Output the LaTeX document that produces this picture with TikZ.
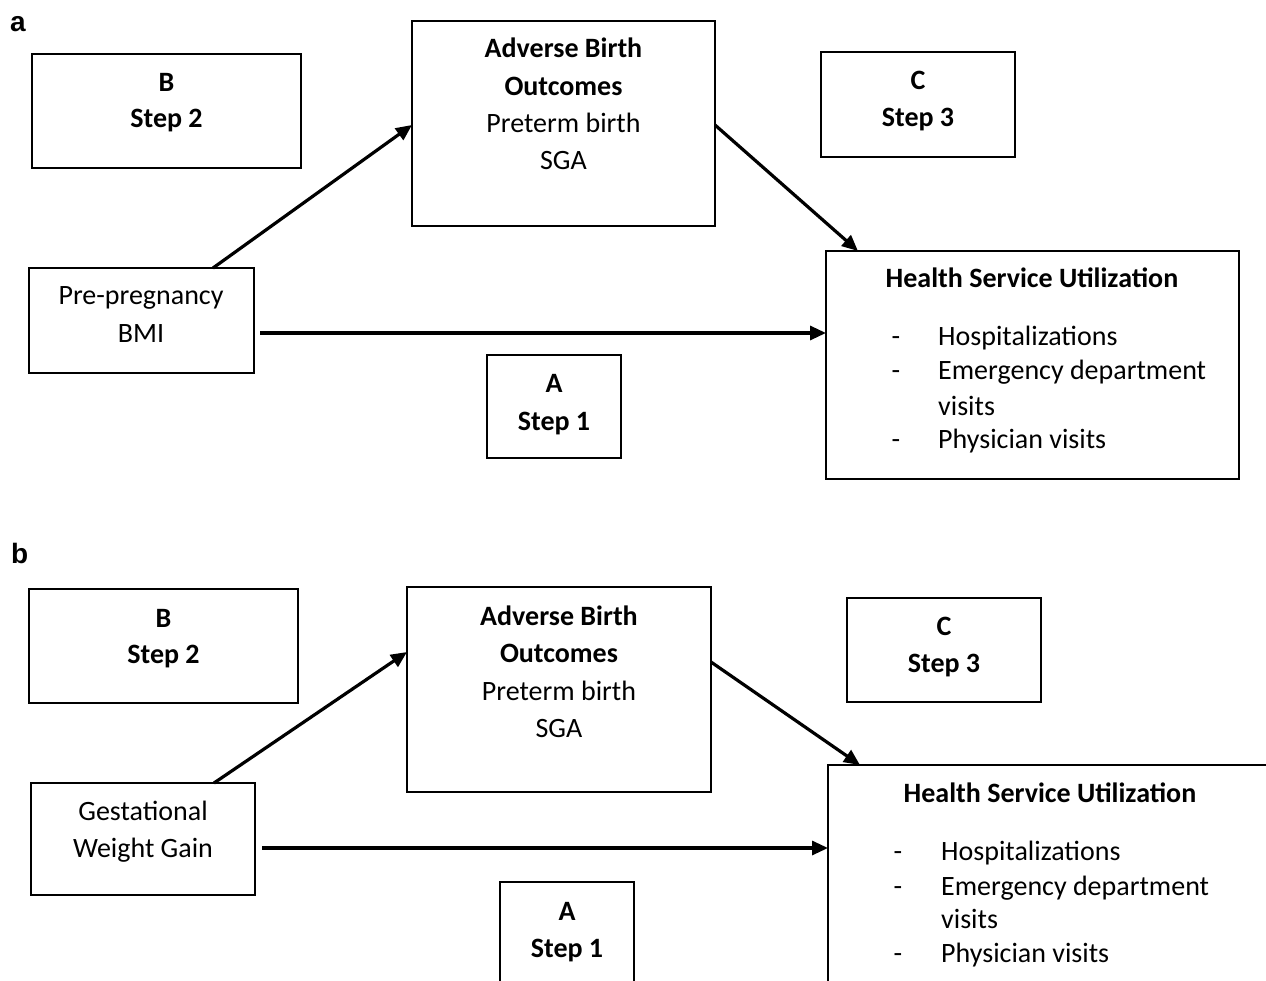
\documentclass[tikz,border=0pt]{standalone}
\usepackage{fontspec}
\setmainfont{Carlito}
\newfontfamily\arialf{Liberation Sans}
\usetikzlibrary{arrows.meta}
\begin{document}
\begin{tikzpicture}[x=1pt,y=-1pt,
  box/.style={draw, line width=1.8pt, inner sep=0pt, outer sep=0pt},
  txt/.style={anchor=base, inner sep=0pt, font=\fontsize{28}{32}\selectfont},
  btxt/.style={anchor=base, inner sep=0pt, font=\fontsize{28}{32}\selectfont\bfseries},
  litem/.style={anchor=base west, inner sep=0pt, font=\fontsize{28}{32}\selectfont},
  dashmark/.style={anchor=base, inner sep=0pt, font=\fontsize{28}{32}\selectfont},
  conn/.style={line width=3.2pt, -{Triangle[length=16pt,width=14pt]}},
  panel/.style={anchor=base west, inner sep=0pt, font=\arialf\bfseries\fontsize{28}{30}\selectfont}]
\useasboundingbox (0,0) rectangle (1266,981);
\clip (0,0) rectangle (1266,981);

% ---------- panel a ----------
\node[panel] (la) at (10,32) {a};
\node[box, minimum width=269pt, minimum height=114pt] (aB) at (166.5,111) {};
\node[btxt] (aBt1) at (166.5,92) {B};
\node[btxt] (aBt2) at (166.5,128) {Step 2};

\node[box, minimum width=303pt, minimum height=205pt] (aABO) at (563.5,123.5) {};
\node[btxt] (aABOt1) at (563.5,58) {Adverse Birth};
\node[btxt] (aABOt2) at (563.5,96) {Outcomes};
\node[txt] (aABOt3) at (563.5,133) {Preterm birth};
\node[txt] (aABOt4) at (563.5,170) {SGA};

\node[box, minimum width=194pt, minimum height=105pt] (aC) at (918,104.5) {};
\node[btxt] (aCt1) at (918,90) {C};
\node[btxt] (aCt2) at (918,127) {Step 3};

\node[box, minimum width=225pt, minimum height=105pt] (aBMI) at (141.5,320.5) {};
\node[txt] (aBMIt1) at (141,305) {Pre-pregnancy};
\node[txt] (aBMIt2) at (141,343) {BMI};

\node[box, minimum width=134pt, minimum height=103pt] (aA) at (554,406.5) {};
\node[btxt] (aAt1) at (554,392) {A};
\node[btxt] (aAt2) at (554,430) {Step 1};

\node[box, minimum width=413pt, minimum height=228pt] (aHSU) at (1032.5,365) {};
\node[btxt] (aHSUt) at (1032,288) {Health Service Utilization};
\node[dashmark] (aD1) at (896,346) {-};
\node[dashmark] (aD2) at (896,380) {-};
\node[dashmark] (aD3) at (896,448) {-};
\node[litem] (aL1) at (938,346) {Hospitalizations};
\node[litem] (aL2) at (938,380) {Emergency department};
\node[litem] (aL3) at (938,415) {visits};
\node[litem] (aL4) at (938,448) {Physician visits};

\draw[conn] ([xshift=184pt]aBMI.north west) -- ([yshift=-1.5pt]aABO.west);
\draw[conn] ([yshift=-1.5pt]aABO.east) -- ([xshift=32pt]aHSU.north west);
\draw[conn] ([xshift=6pt,yshift=-12.5pt]aBMI.east) coordinate (as) -- (as -| aHSU.west);

% ---------- panel b ----------
\node[panel] (lb) at (11,563) {b};
\node[box, minimum width=269pt, minimum height=114pt] (bB) at (163.5,646) {};
\node[btxt] (bBt1) at (163.5,627) {B};
\node[btxt] (bBt2) at (163.5,663) {Step 2};

\node[box, minimum width=304pt, minimum height=205pt] (bABO) at (559,689.5) {};
\node[btxt] (bABOt1) at (559,625) {Adverse Birth};
\node[btxt] (bABOt2) at (559,662) {Outcomes};
\node[txt] (bABOt3) at (559,700) {Preterm birth};
\node[txt] (bABOt4) at (559,737) {SGA};

\node[box, minimum width=194pt, minimum height=104pt] (bC) at (944,650) {};
\node[btxt] (bCt1) at (944,635) {C};
\node[btxt] (bCt2) at (944,672) {Step 3};

\node[box, minimum width=224pt, minimum height=112pt] (bGWG) at (143,839) {};
\node[txt] (bGWGt1) at (143,820) {Gestational};
\node[txt] (bGWGt2) at (143,857) {Weight Gain};

\node[box, minimum width=134pt, minimum height=103pt] (bA) at (567,933.5) {};
\node[btxt] (bAt1) at (567,920) {A};
\node[btxt] (bAt2) at (567,957) {Step 1};

\node[box, minimum width=444pt, minimum height=228pt] (bHSU) at (1050,879) {};
\node[btxt] (bHSUt) at (1050,802) {Health Service Utilization};
\node[dashmark] (bD1) at (898,860) {-};
\node[dashmark] (bD2) at (898,895) {-};
\node[dashmark] (bD3) at (898,962) {-};
\node[litem] (bL1) at (941,860) {Hospitalizations};
\node[litem] (bL2) at (941,895) {Emergency department};
\node[litem] (bL3) at (941,928) {visits};
\node[litem] (bL4) at (941,962) {Physician visits};

\draw[conn] ([xshift=183pt]bGWG.north west) -- ([yshift=37.5pt]bABO.west);
\draw[conn] ([yshift=27.5pt]bABO.east) -- ([xshift=32pt]bHSU.north west);
\draw[conn] ([xshift=7pt,yshift=-9pt]bGWG.east) coordinate (bs) -- (bs -| bHSU.west);
\end{tikzpicture}
\end{document}
